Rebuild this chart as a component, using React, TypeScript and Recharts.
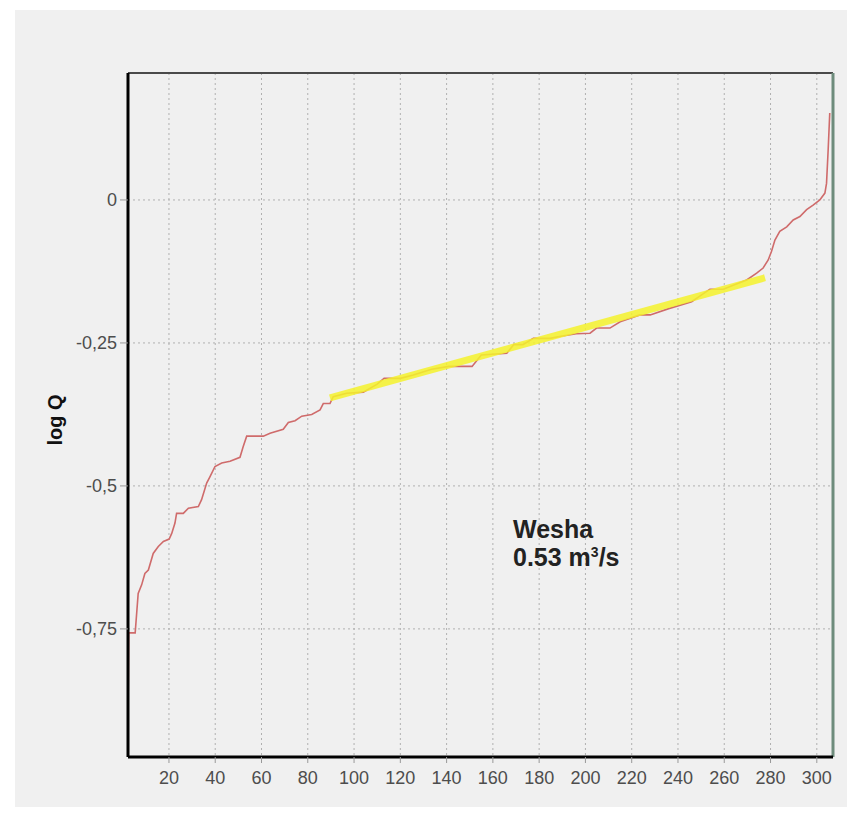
import { LineChart, Line, XAxis, YAxis, CartesianGrid, ReferenceLine } from "recharts"

// Flow duration curve, day rank vs log Q
const days = [
  2.4, 2.6, 5.4, 6.7, 8.2, 9.6, 11.1, 13.2, 15.4, 17.6, 20.1, 21.2, 22.6, 23.3, 26.2, 28.4,
  32.7, 34.1, 36.3, 37.7, 39.9, 42.8, 46.4, 50.7, 52.1, 53.6, 60.8, 63.7, 69.4, 71.6, 74.5,
  77.4, 81.7, 85.3, 86.7, 89.6, 91, 96.8, 104, 110, 113, 120, 125.6, 133.5, 141, 151, 155,
  166, 169, 173, 177.5, 184.6, 190, 196, 202, 204.8, 210.6, 215, 223.5, 228, 236, 245.9,
  253.8, 259.6, 263.9, 269.7, 274, 276.8, 279, 280.4, 281.9, 284, 287, 289.8, 292.7, 295.6,
  298.4, 301.3, 303.5, 304.2, 304.9, 305.6,
]
const logQ = [
  -0.86, -0.757, -0.757, -0.688, -0.673, -0.653, -0.647, -0.618, -0.606, -0.597, -0.593,
  -0.583, -0.565, -0.548, -0.548, -0.539, -0.536, -0.524, -0.495, -0.484, -0.466, -0.46,
  -0.457, -0.45, -0.431, -0.413, -0.413, -0.408, -0.401, -0.389, -0.386, -0.378, -0.375,
  -0.367, -0.356, -0.356, -0.344, -0.338, -0.336, -0.322, -0.312, -0.312, -0.306, -0.296,
  -0.291, -0.291, -0.271, -0.268, -0.253, -0.253, -0.242, -0.242, -0.238, -0.234, -0.233,
  -0.224, -0.224, -0.213, -0.201, -0.201, -0.19, -0.178, -0.156, -0.156, -0.149, -0.14,
  -0.128, -0.119, -0.105, -0.09, -0.07, -0.055, -0.047, -0.035, -0.029, -0.017, -0.009, 0,
  0.012, 0.029, 0.087, 0.152,
]

// fitted straight segment (yellow)
const trendDays = [89.6, 277.6]
const trendLogQ = [-0.346, -0.136]

const xTicks = [20, 40, 60, 80, 100, 120, 140, 160, 180, 200, 220, 240, 260, 280, 300]
const yTicks = [0, -0.25, -0.5, -0.75]
const yTickLabels = ["0", "-0,25", "-0,5", "-0,75"]

const X_DOMAIN: [number, number] = [2.3, 307]
const Y_DOMAIN: [number, number] = [-0.974, 0.222]

const curveData = days.map((d, i) => ({ day: d, logQ: logQ[i] }))
const trendData = trendDays.map((d, i) => ({ day: d, trend: trendLogQ[i] }))

const FONT = "Arial, 'Liberation Sans', sans-serif"
const TICK_FILL = "#4d4d4d"
const TICK_SIZE = 18

function XTick({ x, y, payload }: any) {
  return (
    <text x={x} y={y} dy="0.71em" textAnchor="middle" fill={TICK_FILL} fontSize={TICK_SIZE} fontFamily={FONT}>
      {payload.value}
    </text>
  )
}

function YTick({ x, y, payload }: any) {
  const label = yTickLabels[yTicks.indexOf(payload.value)] ?? String(payload.value)
  return (
    <text x={x} y={y} dy="0.355em" textAnchor="end" fill={TICK_FILL} fontSize={TICK_SIZE} fontFamily={FONT}>
      {label}
    </text>
  )
}

export default function App() {
  return (
    <div
      style={{
        position: "relative",
        width: 843,
        height: 807,
        marginBottom: -8,
        background: "#fff",
        fontFamily: FONT,
      }}
    >
      <div style={{ position: "absolute", left: 7, top: 2, width: 832, height: 805, background: "#f0f0f0" }}>
        <LineChart width={832} height={805} margin={{ top: 63, right: 14, left: 0, bottom: 18 }}>
          <CartesianGrid stroke="#b0b0b0" strokeDasharray="2 3" />
          <XAxis
            type="number"
            dataKey="day"
            domain={X_DOMAIN}
            allowDataOverflow
            ticks={xTicks}
            height={40}
            tickSize={6}
            tickMargin={8}
            tick={<XTick />}
            tickLine={{ stroke: "#999" }}
            axisLine={{ stroke: "#000", strokeWidth: 3 }}
          />
          <YAxis
            type="number"
            domain={Y_DOMAIN}
            allowDataOverflow
            ticks={yTicks}
            width={113}
            tickSize={8}
            tickMargin={3}
            tick={<YTick />}
            tickLine={{ stroke: "#999" }}
            axisLine={{ stroke: "#000", strokeWidth: 3 }}
          />
          <ReferenceLine y={Y_DOMAIN[1]} stroke="#4a4a4a" strokeWidth={2} />
          <ReferenceLine x={X_DOMAIN[1]} stroke="#6e8c7c" strokeWidth={3} />
          <Line
            data={curveData}
            dataKey="logQ"
            stroke="#cf6b6b"
            strokeWidth={1.6}
            dot={false}
            isAnimationActive={false}
          />
          <Line
            data={trendData}
            dataKey="trend"
            stroke="#f4f22c"
            strokeWidth={7}
            strokeOpacity={0.85}
            dot={false}
            isAnimationActive={false}
          />
        </LineChart>
      </div>
      {/* y axis title */}
      <div
        style={{
          position: "absolute",
          left: 7,
          top: 400,
          width: 80,
          height: 24,
          lineHeight: "24px",
          textAlign: "center",
          fontSize: 20,
          fontWeight: "bold",
          color: "#111",
          transform: "rotate(-90deg)",
        }}
      >
        log Q
      </div>
      <div
        style={{
          position: "absolute",
          left: 505,
          top: 507,
          fontSize: 25,
          lineHeight: "28px",
          fontWeight: "bold",
          color: "#222",
          whiteSpace: "nowrap",
        }}
      >
        <div>Wesha</div>
        <div>
          0.53 m<sup style={{ fontSize: 14, verticalAlign: "9px", lineHeight: 0 }}>3</sup>/s
        </div>
      </div>
    </div>
  )
}
